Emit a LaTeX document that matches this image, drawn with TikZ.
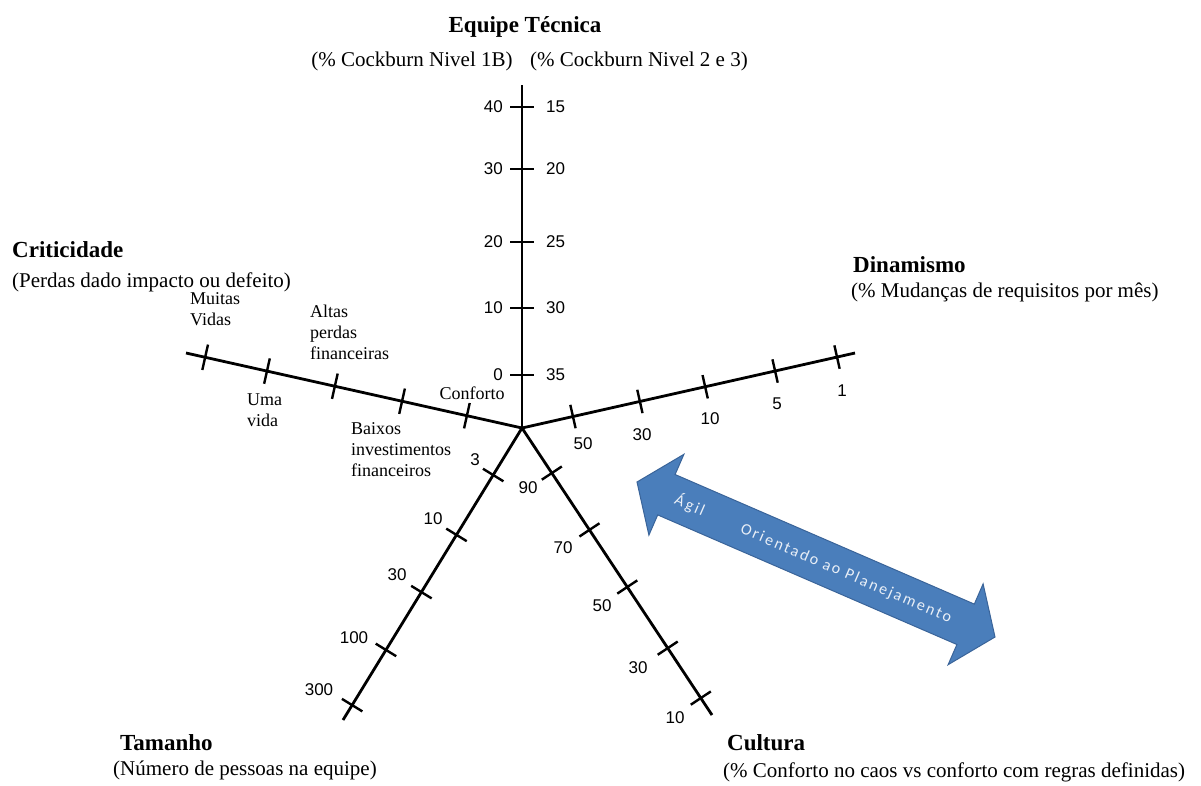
\documentclass[tikz,border=0pt]{standalone}
\usepackage{fontspec}
\setmainfont{Liberation Serif}
\newfontfamily\numfont{Liberation Sans}
\newfontfamily\arrowfont[LetterSpace=14]{Carlito}
\usetikzlibrary{calc}
\definecolor{arrowblue}{HTML}{4A7EBB}
\definecolor{arrowedge}{HTML}{3A6499}
\begin{document}
\begin{tikzpicture}[x=1pt,y=-1pt,
  axisline/.style={line width=2.8pt, black},
  tickline/.style={line width=2.4pt, black},
  heading/.style={font=\fontsize{23}{26}\selectfont\bfseries, inner sep=0pt, anchor=base west},
  subhead/.style={font=\fontsize{21}{24}\selectfont, inner sep=0pt, anchor=base west},
  num/.style={font=\numfont\fontsize{17}{19}\selectfont, inner sep=0pt},
  smalllab/.style={font=\fontsize{18}{21}\selectfont, inner sep=0pt, align=left, anchor=north west},
  arrowtext/.style={font=\arrowfont\fontsize{16}{18}\selectfont, text=white!88!arrowblue, inner sep=0pt, rotate=-23.4},
  bigarrow/.style={fill=arrowblue, draw=arrowedge, line width=1pt, line join=miter}
  ]
\useasboundingbox (0,0) rectangle (1201,785);

% centre and axis ends
\coordinate (c) at (522,428);
\coordinate (eT) at (522,85);
\coordinate (eD) at (855,353);
\coordinate (eC) at (186,353);
\coordinate (eS) at (343,720);
\coordinate (eU) at (712,715);

% axes
\draw[axisline] (c) -- (eT);
\draw[axisline] (c) -- (eD);
\draw[axisline] (c) -- (eC);
\draw[axisline] (c) -- (eS);
\draw[axisline] (c) -- (eU);

% ticks
\foreach \f in {0.155,0.35,0.542,0.755,0.936}
  \draw[tickline] ($(c)!\f!(eT)!12pt!90:(eT)$) -- ($(c)!\f!(eT)!12pt!-90:(eT)$);
\foreach \f in {0.153,0.354,0.55,0.76,0.946}
  \draw[tickline] ($(c)!\f!(eD)!12pt!90:(eD)$) -- ($(c)!\f!(eD)!12pt!-90:(eD)$);
\foreach \f in {0.164,0.357,0.557,0.759,0.943}
  \draw[tickline] ($(c)!\f!(eC)!13pt!90:(eC)$) -- ($(c)!\f!(eC)!13pt!-90:(eC)$);
\foreach \f in {0.161,0.366,0.562,0.76,0.949}
  \draw[tickline] ($(c)!\f!(eS)!12pt!90:(eS)$) -- ($(c)!\f!(eS)!12pt!-90:(eS)$);
\foreach \f in {0.157,0.355,0.554,0.767,0.941}
  \draw[tickline] ($(c)!\f!(eU)!12pt!90:(eU)$) -- ($(c)!\f!(eU)!12pt!-90:(eU)$);

% Equipe Tecnica labels
\node[num, anchor=east] (t40) at (503,107) {40};
\node[num, anchor=east] (t30) at (503,169) {30};
\node[num, anchor=east] (t20) at (503,242) {20};
\node[num, anchor=east] (t10) at (503,308) {10};
\node[num, anchor=east] (t0)  at (503,375) {0};
\node[num, anchor=west] (r15) at (546,107) {15};
\node[num, anchor=west] (r20) at (546,169) {20};
\node[num, anchor=west] (r25) at (546,242) {25};
\node[num, anchor=west] (r30) at (546,308) {30};
\node[num, anchor=west] (r35) at (546,375) {35};

% Dinamismo labels
\node[num] (d50) at (583,444) {50};
\node[num] (d30) at (642,435) {30};
\node[num] (d10) at (710,419) {10};
\node[num] (d5)  at (777,404) {5};
\node[num] (d1)  at (842,391) {1};

% Tamanho labels
\node[num] (s3)   at (475,460) {3};
\node[num] (s10)  at (433,519) {10};
\node[num] (s30)  at (397,575) {30};
\node[num] (s100) at (354,638) {100};
\node[num] (s300) at (319,690) {300};

% Cultura labels
\node[num] (u90) at (528,488) {90};
\node[num] (u70) at (563,548) {70};
\node[num] (u50) at (602,606) {50};
\node[num] (u30) at (638,668) {30};
\node[num] (u10) at (675,718) {10};

% Criticidade labels
\node[smalllab] (cmv) at (190,292) {Muitas\\Vidas};
\node[smalllab] (cuv) at (247,394) {Uma\\vida};
\node[smalllab] (cap) at (310,305) {Altas\\perdas\\financeiras};
\node[smalllab] (cbi) at (351,422) {Baixos\\investimentos\\financeiros};
\node[smalllab, anchor=center] (ccf) at (472,393) {Conforto};

% headings
\node[heading, anchor=base] (hT) at (525,32) {Equipe Técnica};
\node[subhead, anchor=base] (hT1) at (412,66) {(\% Cockburn Nivel 1B)};
\node[subhead, anchor=base] (hT2) at (639,66) {(\% Cockburn Nivel 2 e 3)};
\node[heading] (hC) at (12,257) {Criticidade};
\node[subhead] (hC1) at (12,287) {(Perdas dado impacto ou defeito)};
\node[heading] (hD) at (853,272) {Dinamismo};
\node[subhead] (hD1) at (851,297) {(\% Mudanças de requisitos por mês)};
\node[heading] (hS) at (120,750) {Tamanho};
\node[subhead] (hS1) at (113,775) {(Número de pessoas na equipe)};
\node[heading] (hU) at (727,750) {Cultura};
\node[subhead] (hU1) at (723,777) {(\% Conforto no caos vs conforto com regras definidas)};

% blue double arrow
\draw[bigarrow] (637,482) -- (683.9,454.3) -- (675.1,474.5) -- (974.3,604.1)
  -- (983.1,583.9) -- (995,637) -- (948.1,664.7) -- (956.9,644.5)
  -- (657.7,514.9) -- (648.9,535.1) -- cycle;
\node[arrowtext] (agil) at (690,505) {Ágil};
\node[arrowtext] (plan) at (846,574) {Orientado ao Planejamento};
\end{tikzpicture}
\end{document}
